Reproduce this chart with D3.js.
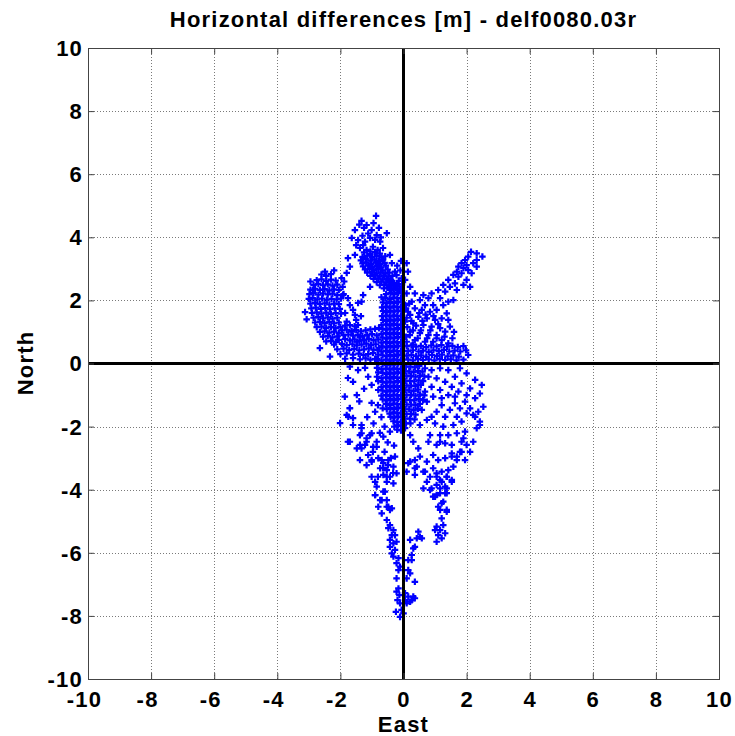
<!DOCTYPE html>
<html>
<head>
<meta charset="utf-8">
<script src="https://cdn.jsdelivr.net/npm/d3@7"></script>
<style>
  body { margin: 0; background: #fff; }
  text { font-family: "Liberation Sans", Arial, sans-serif; font-weight: bold; fill: #000; }
</style>
</head>
<body>
<svg id="chart" width="735" height="736"></svg>
<script>
// Axis ticks (metres)
const tickValues = [-10, -8, -6, -4, -2, 0, 2, 4, 6, 8, 10];

// Horizontal position differences [East, North] in metres, grouped by region of the scatter
const northLobe = [
  [-0.87,4.68],[-1.33,4.52],[-1.54,4.23],[-1.17,4.39],[-1.01,4.23],[-0.85,4.07],[-1.64,3.98],[-1.44,3.91],
  [-1.22,3.86],[-1.06,3.98],[-0.74,3.86],[-0.53,4.13],[-1.38,3.66],[-1.17,3.6],[-0.97,3.7],[-0.65,3.66],
  [-1.76,3.34],[-1.54,3.44],[-0.43,3.44],[-0.37,3.18],[-1.7,3.07],[-1.8,2.87],[-0.27,2.91],[-1.06,2.43],
  [-1.28,2.17],[-1.44,1.92],[-1.96,2.71],[-1.93,2.43],
  [-1.25,4.3],[-0.95,4.45],[-1.12,4.12],[-1.3,4.05],[-0.9,3.92],[-1.5,3.75],[-1.28,3.75],[-0.82,3.6],
  [-1.05,3.55],[-0.72,4.0],[-1.4,4.4],[-0.78,4.3],
  [-1.25,3.52],[-1.05,3.47],[-0.9,3.53],[-0.75,3.48],
  [-1.3,3.38],[-1.15,3.42],[-1.0,3.37],[-0.85,3.41],[-0.7,3.36],[-0.58,3.4],
  [-1.35,3.27],[-1.2,3.31],[-1.05,3.26],[-0.92,3.3],[-0.78,3.25],[-0.65,3.29],
  [-1.3,3.17],[-1.18,3.21],[-1.02,3.16],[-0.88,3.2],[-0.74,3.15],[-0.6,3.19],
  [-1.28,3.08],[-1.12,3.1],[-0.98,3.06],[-0.84,3.09],[-0.7,3.05],[-0.56,3.1],
  [-1.22,2.98],[-1.08,3.0],[-0.94,2.96],[-0.8,2.99],[-0.66,2.95],[-0.5,2.98],
  [-1.15,2.88],[-1.0,2.9],[-0.86,2.86],[-0.72,2.89],[-0.58,2.85],[-0.45,2.88],
  [-1.05,2.78],[-0.9,2.8],[-0.76,2.76],[-0.62,2.79],[-0.48,2.75],[-0.35,2.78],
  [-0.95,2.68],[-0.8,2.7],[-0.66,2.66],[-0.52,2.69],[-0.4,2.65],
  [-0.85,2.58],[-0.7,2.6],[-0.55,2.56],[-0.42,2.59],[-0.3,2.55],
  [-0.75,2.48],[-0.6,2.5],[-0.45,2.46],[-0.32,2.49],[-0.2,2.45],
  [-0.62,2.38],[-0.5,2.4],[-0.38,2.36],[-0.25,2.39],[-0.12,2.35]
];

const westLobe = [
  [-2.6,2.82],[-2.45,2.78],[-2.3,2.83],
  [-2.75,2.64],[-2.6,2.67],[-2.45,2.62],[-2.3,2.66],[-2.15,2.63],
  [-2.85,2.49],[-2.7,2.52],[-2.55,2.48],[-2.4,2.51],[-2.25,2.47],[-2.1,2.5],
  [-2.95,2.34],[-2.8,2.37],[-2.65,2.33],[-2.5,2.36],[-2.35,2.32],[-2.2,2.35],[-2.05,2.33],
  [-2.98,2.2],[-2.85,2.23],[-2.7,2.18],[-2.55,2.22],[-2.4,2.19],[-2.25,2.21],[-2.1,2.17],
  [-3.0,2.05],[-2.88,2.07],[-2.73,2.03],[-2.58,2.06],[-2.43,2.02],[-2.28,2.05],[-2.12,2.03],[-1.98,2.06],
  [-2.95,1.9],[-2.8,1.92],[-2.65,1.88],[-2.5,1.91],[-2.35,1.87],[-2.2,1.9],[-2.05,1.88],
  [-2.92,1.75],[-2.78,1.77],[-2.62,1.73],[-2.48,1.76],[-2.33,1.72],[-2.18,1.75],[-2.02,1.73],
  [-2.9,1.6],[-2.75,1.62],[-2.6,1.58],[-2.45,1.61],[-2.3,1.57],[-2.15,1.6],[-1.98,1.58],
  [-2.85,1.45],[-2.7,1.47],[-2.55,1.43],[-2.4,1.46],[-2.25,1.42],[-2.1,1.45],
  [-2.8,1.3],[-2.65,1.32],[-2.5,1.28],[-2.35,1.31],[-2.2,1.27],[-2.05,1.3],
  [-2.75,1.15],[-2.6,1.17],[-2.45,1.13],[-2.3,1.16],[-2.15,1.12],[-2.0,1.15],
  [-2.65,1.0],[-2.5,1.02],[-2.35,0.98],[-2.2,1.01],[-2.05,0.97],
  [-2.55,0.85],[-2.4,0.87],[-2.25,0.83],[-2.1,0.86],
  [-2.45,0.7],[-2.3,0.72],[-2.15,0.68],
  [-3.12,1.63],[-3.07,1.4],[-2.95,2.6],[-2.2,2.95],[-2.49,2.91],[-2.87,2.33],
  [-2.65,0.49],[-2.33,0.22],[-1.88,2.6],[-1.9,2.2]
];

const holeRim = [
  [-1.7,1.85],[-1.54,1.54],[-1.8,1.33],[-1.44,1.22],[-1.64,1.01],[-1.38,0.85],[-1.48,0.69],[-1.33,1.96],
  [-1.92,2.17],[-1.76,2.07],[-1.6,1.7],[-1.85,1.6],[-1.5,1.38],[-1.35,1.5]
];

const bridgeBand = [
  [-1.85,1.2],[-1.7,1.22],[-1.55,1.18],
  [-1.95,1.05],[-1.8,1.07],[-1.65,1.03],[-1.5,1.06],[-1.35,1.02],[-1.2,1.05],[-1.05,1.08],[-0.9,1.1],
  [-1.9,0.9],[-1.75,0.92],[-1.6,0.88],[-1.45,0.91],[-1.3,0.87],[-1.15,0.9],[-1.0,0.93],[-0.85,0.89],
  [-2.05,0.75],[-1.85,0.77],[-1.7,0.73],[-1.55,0.76],[-1.4,0.72],[-1.25,0.75],[-1.1,0.78],[-0.95,0.74],[-0.8,0.76],
  [-2.2,0.6],[-1.95,0.62],[-1.8,0.58],[-1.62,0.61],[-1.48,0.57],[-1.33,0.6],[-1.18,0.63],[-1.03,0.59],[-0.88,0.61],
  [-2.1,0.45],[-1.9,0.47],[-1.72,0.43],[-1.56,0.46],[-1.4,0.42],[-1.25,0.45],[-1.1,0.48],[-0.95,0.44],
  [-2.0,0.3],[-1.8,0.32],[-1.6,0.28],[-1.42,0.31],[-1.27,0.27],[-1.12,0.3],[-0.97,0.33],
  [-1.85,0.15],[-1.6,0.17],[-1.38,0.13],[-1.2,0.16],[-1.05,0.12],[-0.9,0.15]
];

const leftStream = [
  [-1.7,-0.1],[-1.44,-0.21],[-1.22,-0.14],[-1.76,-0.46],[-1.6,-0.58],[-1.12,-0.42],[-1.01,-0.68],
  [-1.86,-1.05],[-1.48,-1.0],[-1.7,-1.41],[-1.01,-1.25],[-0.81,-1.32],[-0.9,-1.53],[-2.01,-1.89],
  [-1.8,-1.63],[-1.6,-1.73],[-1.33,-1.95],[-1.6,-1.95],[-1.76,-2.48],[-1.38,-2.58],[-1.17,-2.48],
  [-1.33,-2.21],[-1.06,-2.27],[-0.85,-2.64],[-0.97,-2.8],[-1.38,-3.06],[-1.17,-3.22],[-1.01,-3.06],
  [-0.69,-3.06],[-0.65,-3.31],[-0.49,-3.22],[-0.81,-3.59],[-0.53,-3.59],[-0.9,-3.75],[-0.33,-3.47],
  [-1.7,-1.42],[-1.75,-1.69],[-1.33,-2.05],[-1.38,-2.27],[-1.17,-2.37],[-1.01,-2.21],[-1.22,-2.58],
  [-0.96,-2.64],[-0.85,-2.48],[-0.64,-2.32],[-0.43,-2.16],[-1.7,-2.48],[-1.33,-2.69],[-1.12,-2.9],
  [-1.01,-3.11],[-0.8,-3.0],[-0.64,-3.16],[-0.48,-3.06],[-0.27,-2.95],[-0.74,-3.32],[-0.53,-3.38],
  [-0.32,-3.27],[-0.64,-3.53],[-0.43,-3.59],[-0.22,-3.48],[-0.53,-3.75],[-0.32,-3.8],[-1.01,-3.59],
  [-0.85,-3.9],[-0.9,-4.17],[-0.69,-4.33],[-0.59,-4.06],[-0.8,-4.54],[-0.53,-4.54],[-1.48,-2.69],
  [-1.25,-0.8],[-1.4,-1.2],[-1.15,-1.7],[-0.95,-1.9],[-0.7,-1.7],[-0.6,-2.0],[-0.75,-2.2],[-0.5,-2.5],
  [-0.3,-2.6],[-0.6,-2.8],[-0.4,-3.0]
];

const centerColumn = [
  [-0.08,3.25],[-0.2,3.1],[-0.1,2.95],[-0.22,2.8],[-0.06,2.7],[-0.15,2.62],
  [-0.05,2.5],[-0.17,2.52],[-0.29,2.48],[-0.41,2.51],
  [-0.08,2.36],[-0.2,2.34],[-0.32,2.37],[-0.44,2.33],
  [-0.05,2.22],[-0.17,2.24],[-0.29,2.2],[-0.41,2.23],[-0.55,2.2],
  [-0.08,2.08],[-0.2,2.06],[-0.32,2.09],[-0.44,2.05],[-0.58,2.08],[-0.7,2.1],
  [-0.05,1.94],[-0.17,1.96],[-0.29,1.92],[-0.41,1.95],[-0.53,1.91],[-0.65,1.94],
  [-0.08,1.8],[-0.2,1.78],[-0.32,1.81],[-0.44,1.77],[-0.56,1.8],[-0.68,1.78],
  [-0.05,1.66],[-0.17,1.68],[-0.29,1.64],[-0.41,1.67],[-0.53,1.63],[-0.65,1.66],
  [-0.08,1.52],[-0.2,1.5],[-0.32,1.53],[-0.44,1.49],[-0.56,1.52],[-0.68,1.5],
  [-0.05,1.38],[-0.17,1.4],[-0.29,1.36],[-0.41,1.39],[-0.53,1.35],[-0.65,1.38],
  [-0.08,1.24],[-0.2,1.22],[-0.32,1.25],[-0.44,1.21],[-0.56,1.24],[-0.7,1.22],
  [-0.05,1.1],[-0.17,1.12],[-0.29,1.08],[-0.41,1.11],[-0.53,1.07],[-0.66,1.1],[-0.78,1.12],
  [-0.08,0.96],[-0.2,0.94],[-0.32,0.97],[-0.44,0.93],[-0.56,0.96],[-0.7,0.94],
  [-0.05,0.82],[-0.17,0.84],[-0.29,0.8],[-0.41,0.83],[-0.53,0.79],[-0.66,0.82],
  [-0.08,0.68],[-0.2,0.66],[-0.32,0.69],[-0.44,0.65],[-0.56,0.68],[-0.7,0.66],
  [-0.05,0.54],[-0.17,0.56],[-0.29,0.52],[-0.41,0.55],[-0.53,0.51],[-0.66,0.54],[-0.78,0.5],
  [-0.08,0.4],[-0.2,0.38],[-0.32,0.41],[-0.44,0.37],[-0.56,0.4],[-0.7,0.38],[-0.82,0.42],
  [-0.05,0.26],[-0.17,0.28],[-0.29,0.24],[-0.41,0.27],[-0.53,0.23],[-0.66,0.26],[-0.8,0.28],
  [-0.08,0.12],[-0.2,0.1],[-0.32,0.13],[-0.44,0.09],[-0.56,0.12],[-0.7,0.1],[-0.84,0.14],
  [-0.05,-0.02],[-0.17,0.0],[-0.29,-0.04],[-0.41,-0.01],[-0.53,-0.05],[-0.66,-0.02],[-0.8,0.0],
  [-0.08,-0.16],[-0.2,-0.18],[-0.32,-0.15],[-0.44,-0.19],[-0.56,-0.16],[-0.7,-0.18],[-0.84,-0.14],
  [-0.05,-0.3],[-0.17,-0.28],[-0.29,-0.32],[-0.41,-0.29],[-0.53,-0.33],[-0.66,-0.3],[-0.8,-0.28],
  [-0.08,-0.44],[-0.2,-0.46],[-0.32,-0.43],[-0.44,-0.47],[-0.56,-0.44],[-0.7,-0.46],[-0.84,-0.42],
  [-0.05,-0.58],[-0.17,-0.56],[-0.29,-0.6],[-0.41,-0.57],[-0.53,-0.61],[-0.66,-0.58],[-0.8,-0.56],
  [-0.08,-0.72],[-0.2,-0.74],[-0.32,-0.71],[-0.44,-0.75],[-0.56,-0.72],[-0.7,-0.74],
  [-0.05,-0.86],[-0.17,-0.84],[-0.29,-0.88],[-0.41,-0.85],[-0.53,-0.89],[-0.66,-0.86],[-0.8,-0.84],
  [-0.08,-1.0],[-0.2,-1.02],[-0.32,-0.99],[-0.44,-1.03],[-0.56,-1.0],[-0.7,-1.02],
  [-0.05,-1.14],[-0.17,-1.12],[-0.29,-1.16],[-0.41,-1.13],[-0.53,-1.17],[-0.66,-1.14],
  [-0.08,-1.28],[-0.2,-1.3],[-0.32,-1.27],[-0.44,-1.31],[-0.56,-1.28],
  [-0.05,-1.42],[-0.17,-1.4],[-0.29,-1.44],[-0.41,-1.41],[-0.53,-1.45],[-0.66,-1.42],
  [-0.08,-1.56],[-0.2,-1.58],[-0.32,-1.55],[-0.44,-1.59],
  [-0.05,-1.7],[-0.17,-1.68],[-0.29,-1.72],[-0.41,-1.69],
  [-0.08,-1.84],[-0.2,-1.86],[-0.32,-1.83],
  [-0.05,-1.98],[-0.17,-1.96],[-0.29,-2.0],
  [-0.08,-2.12],[-0.2,-2.1]
];

const eastArm = [
  [2.5,3.39],[2.32,3.49],[2.32,3.28],[2.14,3.54],[2.05,3.39],[1.95,3.28],[1.84,3.18],[2.0,3.12],
  [1.74,3.07],[1.9,3.02],[2.05,2.96],[1.69,2.91],[1.84,2.86],[1.58,2.81],[1.74,2.75],[2.16,2.86],
  [2.32,3.07],[2.21,3.18],[2.0,2.65],[2.11,2.43],[1.9,2.49],[1.63,2.54],[1.42,2.65],[1.26,2.49],
  [1.47,2.43],[1.69,2.33],[1.1,2.33],[1.32,2.28],[0.89,2.22],[1.58,2.01],[1.42,1.96],[1.16,2.07],
  [1.26,1.85],[0.79,2.07],[0.63,2.17],[0.36,2.22],[0.52,2.01],[0.26,1.96],[0.68,1.85],[0.94,1.85],
  [1.05,1.7],[0.84,1.64],[0.58,1.7],[0.36,1.75],[1.37,1.59],[1.21,1.43],[1.42,1.38],[1.0,1.38],
  [0.74,1.43],[0.47,1.48],[0.21,1.54],[0.31,1.27],[0.63,1.22],[0.89,1.17],[1.16,1.12],[1.32,1.01],
  [1.47,1.17],[1.05,0.9],[0.79,0.9],[0.52,0.96],[0.21,1.01],[0.36,0.74],[0.68,0.69],[0.94,0.69],
  [1.21,0.74],[1.42,0.64],[0.1,0.69],
  [0.1,3.18],[0.14,2.91],[0.05,2.65],[0.21,2.43],[0.1,2.22],[0.05,1.85],[0.14,1.64],[0.05,1.33],
  [0.08,0.85],[0.2,0.9],[0.12,1.15],[0.3,1.05],[0.1,1.45],[0.25,1.35],[0.08,1.75],[0.18,1.9],
  [0.3,0.6],[0.45,0.8],[0.55,1.05],[0.4,1.2],[0.6,1.35],[0.85,1.05],[0.5,1.6],[0.7,1.55],
  [0.95,1.5],[1.1,1.25],[0.75,0.8],[1.05,0.8],[1.3,0.85],[1.55,0.8],[1.6,1.0]
];

const eastBand = [
  [0.1,0.55],[0.25,0.57],[0.4,0.53],[0.55,0.56],[0.72,0.52],[0.88,0.57],[1.05,0.54],[1.2,0.58],[1.38,0.53],[1.55,0.56],[1.72,0.52],[1.9,0.55],
  [0.15,0.4],[0.3,0.42],[0.48,0.38],[0.62,0.41],[0.8,0.37],[0.95,0.42],[1.12,0.39],[1.28,0.43],[1.45,0.38],[1.62,0.41],[1.8,0.38],[1.98,0.42],
  [0.1,0.25],[0.25,0.27],[0.4,0.23],[0.56,0.26],[0.72,0.22],[0.9,0.27],[1.06,0.24],[1.22,0.28],[1.4,0.23],[1.58,0.26],[1.75,0.22],[2.05,0.27],
  [0.15,0.12],[0.3,0.1],[0.46,0.14],[0.62,0.11],[0.8,0.13],[0.98,0.1],[1.15,0.14],[1.32,0.11],[1.5,0.13],[1.68,0.1],[1.9,0.12],
  [0.08,-0.1],[0.22,-0.1],[0.36,-0.12],[0.5,-0.08],
  [0.05,-0.25],[0.18,-0.25],[0.32,-0.27],[0.46,-0.23],[0.6,-0.26],
  [0.1,-0.4],[0.24,-0.4],[0.38,-0.42],[0.52,-0.38],[0.66,-0.41],
  [0.06,-0.55],[0.2,-0.55],[0.34,-0.57],[0.48,-0.53],[0.62,-0.56],
  [0.1,-0.7],[0.24,-0.7],[0.38,-0.72],[0.55,-0.68],
  [0.05,-0.85],[0.18,-0.85],[0.32,-0.87],[0.46,-0.83],
  [0.1,-1.0],[0.24,-1.0],[0.38,-1.02],[0.52,-0.98],[0.66,-1.01],
  [0.06,-1.15],[0.2,-1.15],[0.34,-1.17],[0.48,-1.13],[0.62,-1.16],
  [0.1,-1.3],[0.24,-1.3],[0.38,-1.32],[0.52,-1.28],
  [0.05,-1.45],[0.18,-1.45],[0.32,-1.47],[0.46,-1.43],
  [0.1,-1.6],[0.24,-1.6],[0.38,-1.62],
  [0.05,-1.75],[0.2,-1.75],[0.35,-1.77],
  [0.08,-1.9],[0.22,-1.9],[0.05,-2.05],
  [2.48,-0.68],[2.27,-0.52],[2.0,-0.31],[1.79,-0.15],[2.11,-0.79],[1.84,-0.63],[1.63,-0.42],[1.42,-0.21],
  [1.16,-0.15],[0.89,-0.21],[0.68,-0.15],[0.79,-0.42],[1.05,-0.47],[1.32,-0.58],[1.53,-0.74],[1.74,-0.89],
  [2.0,-1.0],[2.27,-1.1],[1.42,-1.0],[1.16,-0.84],[0.89,-0.74],[0.68,-0.89],[0.94,-1.05],[1.21,-1.1],
  [0.74,-1.21],[0.58,-1.47],[0.47,-0.68],[1.63,-1.05],[2.42,-0.95]
];

const eastLower = [
  [2.53,-1.37],[2.37,-1.53],[2.27,-1.69],[2.42,-1.84],[2.32,-2.05],[2.11,-1.42],[1.95,-1.21],[1.79,-1.42],
  [2.0,-1.58],[1.63,-1.26],[1.47,-1.47],[1.69,-1.69],[1.84,-1.84],[1.32,-1.69],[1.21,-1.32],[1.05,-1.53],
  [0.89,-1.69],[0.74,-1.79],[1.0,-1.9],[1.26,-2.0],[1.58,-1.95],[1.95,-2.16],[1.69,-2.21],[1.42,-2.27],
  [1.84,-2.48],[1.53,-2.58],[1.32,-2.53],[1.16,-2.27],[0.79,-2.48],[1.05,-2.58],[1.84,-2.8],[1.69,-2.95],
  [1.53,-2.85],[1.95,-3.06],[1.32,-3.0],[1.1,-3.06],[0.74,-3.11],[0.52,-2.95],[0.36,-3.06],[0.36,-3.32],
  [0.68,-3.43],[0.94,-3.32],[1.21,-3.43],[1.05,-3.59],[1.37,-3.59],[1.21,-3.75],[1.53,-3.69],[0.1,-3.43],
  [0.15,-3.16],
  [2.21,-1.63],[2.42,-1.95],[0.52,-1.95],[0.84,-2.27],[1.16,-2.48],[2.21,-2.48],[2.11,-2.8],[0.31,-2.48],
  [0.47,-2.69],[0.21,-2.27],[0.94,-2.9],[2.0,-2.58],[1.9,-2.37],[1.79,-2.8],[1.53,-2.95],[1.69,-3.06],
  [1.58,-3.27],
  [0.21,-3.11],[0.42,-3.27],[0.36,-3.53],[0.63,-3.43],[0.84,-3.59],[1.05,-3.48],[1.16,-3.69],[1.37,-3.59],
  [1.42,-3.38],[1.53,-3.75],[1.32,-3.9],[1.05,-3.85],[0.89,-3.96],[1.16,-4.11],[1.37,-4.11],[1.0,-4.22],
  [1.26,-4.38],[1.1,-4.54],[1.37,-4.64],[0.74,-3.75]
];

const southTail = [
  [-0.9,-4.17],[-0.64,-4.06],[-0.74,-4.33],[-0.53,-4.33],[-0.69,-4.75],[-0.48,-4.54],[-0.43,-4.64],[-0.37,-4.59],
  [-0.53,-4.96],[-0.43,-5.12],[-0.48,-5.22],[-0.32,-5.28],[-0.37,-5.44],[-0.27,-5.44],[-0.43,-5.59],[-0.32,-5.7],
  [-0.22,-5.65],[-0.43,-5.81],[-0.27,-5.91],[-0.37,-6.02],[-0.32,-6.12],[-0.16,-6.17],[-0.22,-6.33],[-0.11,-6.44],
  [-0.16,-6.55],[-0.22,-6.81],[-0.16,-7.13],[-0.22,-7.23],[-0.13,-7.34],[-0.19,-7.5],[-0.11,-7.6],[-0.24,-7.87],
  [-0.11,-8.03],
  [0.21,-5.59],[0.31,-5.86],[0.36,-5.81],[0.47,-5.33],[0.58,-5.54],[0.52,-5.49],[0.42,-5.54],[0.26,-6.07],
  [0.15,-6.23],[0.26,-6.23],[0.15,-6.55],[0.21,-6.65],[0.36,-6.92],[0.1,-6.81],[0.05,-7.28],[0.15,-7.39],
  [0.26,-7.5],[0.31,-7.39],[0.36,-7.44],[0.21,-7.55],[0.05,-7.5],[0.1,-7.6],[0.0,-7.92],[-0.06,-7.81],
  [0.63,-3.96],[0.84,-4.01],[1.16,-3.96],[1.37,-3.96],[1.32,-4.11],[1.05,-4.17],[1.21,-4.43],[1.16,-4.64],
  [1.37,-4.7],[1.21,-4.91],[1.05,-5.17],[1.26,-5.12],[1.16,-5.28],[1.32,-5.38],[1.1,-5.44],[1.21,-5.54],
  [1.05,-5.65],[1.0,-5.28],[0.94,-4.22]
];

const points = [].concat(northLobe, westLobe, holeRim, bridgeBand, leftStream,
                         centerColumn, eastArm, eastBand, eastLower, southTail);

const svg = d3.select('#chart');
const x = d3.scaleLinear().domain([-10, 10]).range([88, 719]);
const y = d3.scaleLinear().domain([-10, 10]).range([679, 48]);

// Dotted grid
const grid = svg.append('g').attr('stroke', '#7a7a7a').attr('stroke-width', 1)
  .attr('stroke-dasharray', '1,2');
grid.selectAll('line.v').data(tickValues.slice(1, -1)).join('line')
  .attr('class', 'v')
  .attr('x1', d => Math.round(x(d)) + 0.5).attr('x2', d => Math.round(x(d)) + 0.5)
  .attr('y1', y(10)).attr('y2', y(-10));
grid.selectAll('line.h').data(tickValues.slice(1, -1)).join('line')
  .attr('class', 'h')
  .attr('y1', d => Math.round(y(d)) + 0.5).attr('y2', d => Math.round(y(d)) + 0.5)
  .attr('x1', x(-10)).attr('x2', x(10));

// Scatter markers
svg.append('g').selectAll('path').data(points).join('path')
  .attr('d', d3.symbol(d3.symbolCross, 24))
  .attr('transform', d => `translate(${x(d[0])},${y(d[1])})`)
  .attr('fill', '#0000ff');

// Heavy zero lines
svg.append('line').attr('x1', x(0)).attr('x2', x(0)).attr('y1', y(10)).attr('y2', y(-10))
  .attr('stroke', '#000').attr('stroke-width', 3);
svg.append('line').attr('y1', y(0)).attr('y2', y(0)).attr('x1', x(-10)).attr('x2', x(10))
  .attr('stroke', '#000').attr('stroke-width', 3);

// Axes: ticks on all four sides, pointing inwards; labels use a plain hyphen for minus
const plainLabel = d => String(d);
const axisFont = g => {
  g.select('.domain').remove();
  g.selectAll('line').attr('stroke', '#444');
  g.selectAll('text').style('font-size', '22px').style('letter-spacing', '1.2px')
    .attr('fill', '#000');
};
svg.append('g').attr('transform', `translate(0,${y(-10)})`)
  .call(d3.axisBottom(x).tickValues(tickValues).tickFormat(plainLabel)
    .tickSizeInner(-6).tickSizeOuter(0).tickPadding(12))
  .call(axisFont)
  .call(g => g.selectAll('text').attr('dx', d => d < 0 ? -4 : 0));
svg.append('g').attr('transform', `translate(${x(-10)},0)`)
  .call(d3.axisLeft(y).tickValues(tickValues).tickFormat(plainLabel)
    .tickSizeInner(-6).tickSizeOuter(0).tickPadding(5))
  .call(axisFont)
  .call(g => g.selectAll('text').attr('dy', '0.34em'));
svg.append('g').attr('transform', `translate(0,${y(10)})`)
  .call(d3.axisTop(x).tickValues(tickValues).tickSizeInner(-6).tickSizeOuter(0).tickFormat(''))
  .call(axisFont);
svg.append('g').attr('transform', `translate(${x(10)},0)`)
  .call(d3.axisRight(y).tickValues(tickValues).tickSizeInner(-6).tickSizeOuter(0).tickFormat(''))
  .call(axisFont);

// Plot box
svg.append('rect').attr('x', x(-10) + 0.5).attr('y', y(10) + 0.5)
  .attr('width', x(10) - x(-10)).attr('height', y(-10) - y(10))
  .attr('fill', 'none').attr('stroke', '#444').attr('stroke-width', 1);

// Titles
svg.append('text').attr('x', 403.5).attr('y', 27).attr('text-anchor', 'middle')
  .style('font-size', '22px').style('letter-spacing', '1.2px')
  .text('Horizontal differences [m] - delf0080.03r');
svg.append('text').attr('x', 403.5).attr('y', 732).attr('text-anchor', 'middle')
  .style('font-size', '22px').style('letter-spacing', '1.2px').text('East');
svg.append('text').attr('transform', 'translate(33,363) rotate(-90)').attr('text-anchor', 'middle')
  .style('font-size', '22px').style('letter-spacing', '1.2px').text('North');
</script>
</body>
</html>
